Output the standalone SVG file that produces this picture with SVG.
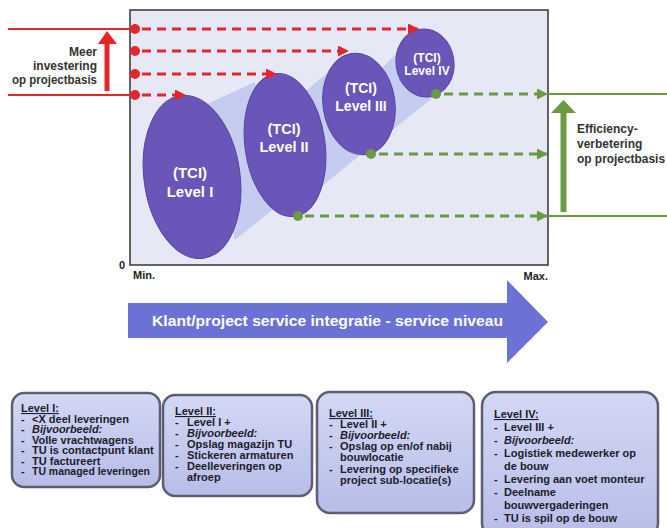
<svg xmlns="http://www.w3.org/2000/svg" width="667" height="528" viewBox="0 0 667 528">
<defs>
<style>
.t{font-family:"Liberation Sans",Arial,sans-serif;font-weight:bold}
.lbl{fill:#fff;text-anchor:middle}
.side{fill:#333;font-size:12px}
.bx{fill:#1c1c2c;font-size:11px}
.it{font-style:italic}
.ell{fill:#6a55b8;stroke:#5742a6;stroke-width:1}
.cone{fill:#bfc6ef;opacity:0.85}
.rd{stroke:#e3262a;stroke-width:3;stroke-dasharray:9 6;fill:none}
.gd{stroke:#6b9a45;stroke-width:3;stroke-dasharray:9 6;fill:none}
.box{fill:url(#bg);stroke:#5e5e72;stroke-width:2.5}
</style>
<linearGradient id="bg" x1="0" y1="0" x2="0" y2="1">
<stop offset="0" stop-color="#d4d8f5"/>
<stop offset="1" stop-color="#b7bde8"/>
</linearGradient>
<marker id="ar" markerWidth="11" markerHeight="11" refX="10" refY="5.5" orient="auto" markerUnits="userSpaceOnUse"><path d="M0,0 L11,5.5 L0,11 z" fill="#e3262a"/></marker>
<marker id="ag" markerWidth="11" markerHeight="11" refX="10" refY="5.5" orient="auto" markerUnits="userSpaceOnUse"><path d="M0,0 L11,5.5 L0,11 z" fill="#6b9a45"/></marker>
</defs>
<rect width="667" height="528" fill="#fff"/>

<g id="chart">
<rect x="130" y="10" width="418" height="255" fill="#e7e8f6" stroke="#333" stroke-width="1.5"/>
<polygon class="cone" points="205,105 255,82 272,210 235,240"/>
<polygon class="cone" points="305,92 335,66 366,150 315,192"/>
<polygon class="cone" points="380,70 405,45 440,92 390,132"/>
<text class="t" x="119" y="269" font-size="11" fill="#222">0</text>
<text class="t" x="133" y="279" font-size="11" fill="#222">Min.</text>
<text class="t" x="548" y="280" font-size="11" fill="#222" text-anchor="end">Max.</text>
</g>

<g id="level1">
<ellipse class="ell" cx="192" cy="177" rx="48" ry="82" transform="rotate(-8 192 177)"/>
<text class="t lbl" x="190" y="178" font-size="15">(TCI)</text>
<text class="t lbl" x="190" y="197" font-size="15">Level I</text>
</g>
<g id="level2">
<ellipse class="ell" cx="285" cy="145" rx="40" ry="72" transform="rotate(-8 285 145)"/>
<text class="t lbl" x="284" y="134" font-size="14.5">(TCI)</text>
<text class="t lbl" x="284" y="152" font-size="14.5">Level II</text>
</g>
<g id="level3">
<ellipse class="ell" cx="359" cy="104" rx="36" ry="51" transform="rotate(-8 359 104)"/>
<text class="t lbl" x="361" y="93" font-size="14">(TCI)</text>
<text class="t lbl" x="361" y="111" font-size="14">Level III</text>
</g>
<g id="level4">
<ellipse class="ell" cx="425" cy="63" rx="29" ry="34" transform="rotate(-8 425 63)"/>
<text class="t lbl" x="427" y="62" font-size="12">(TCI)</text>
<text class="t lbl" x="427" y="75" font-size="12">Level IV</text>
</g>

<g id="investment">
<line x1="8" y1="29" x2="130" y2="29" stroke="#e3262a" stroke-width="2"/>
<line x1="8" y1="95" x2="130" y2="95" stroke="#e3262a" stroke-width="2"/>
<rect x="104.5" y="43" width="5" height="48" fill="#e3262a"/>
<polygon points="98,44 117,44 107,31" fill="#e3262a"/>
<text class="t side" text-anchor="end"><tspan x="97" y="56">Meer</tspan><tspan x="97" y="70">investering</tspan><tspan x="97" y="84" textLength="85" lengthAdjust="spacingAndGlyphs">op projectbasis</tspan></text>
</g>

<g id="efficiency">
<line x1="548" y1="94" x2="667" y2="94" stroke="#6b9a45" stroke-width="2"/>
<line x1="548" y1="216" x2="667" y2="216" stroke="#6b9a45" stroke-width="2"/>
<rect x="560.5" y="112" width="6" height="100" fill="#6b9a45"/>
<polygon points="551,113 576,113 563.5,100" fill="#6b9a45"/>
<text class="t side"><tspan x="577" y="133">Efficiency-</tspan><tspan x="577" y="148">verbetering</tspan><tspan x="577" y="163" textLength="88" lengthAdjust="spacingAndGlyphs">op projectbasis</tspan></text>
</g>

<g id="connectors">
<line class="rd" x1="142" y1="29" x2="418" y2="29" marker-end="url(#ar)"/>
<line class="rd" x1="142" y1="51" x2="348" y2="51" marker-end="url(#ar)"/>
<line class="rd" x1="142" y1="74" x2="276" y2="74" marker-end="url(#ar)"/>
<line class="rd" x1="142" y1="95" x2="185" y2="95" marker-end="url(#ar)"/>
<circle cx="135" cy="29" r="5" fill="#e3262a"/>
<circle cx="135" cy="51" r="5" fill="#e3262a"/>
<circle cx="135" cy="74" r="5" fill="#e3262a"/>
<circle cx="135" cy="95" r="5" fill="#e3262a"/>
<line class="gd" x1="444" y1="94" x2="547" y2="94" marker-end="url(#ag)"/>
<line class="gd" x1="379" y1="154" x2="547" y2="154" marker-end="url(#ag)"/>
<line class="gd" x1="305" y1="216" x2="547" y2="216" marker-end="url(#ag)"/>
<circle cx="436" cy="94" r="5" fill="#6b9a45"/>
<circle cx="371" cy="154" r="5" fill="#6b9a45"/>
<circle cx="298" cy="216" r="5" fill="#6b9a45"/>
</g>

<g id="service-arrow">
<polygon points="128,303 507,303 507,280 548,322 507,363 507,338 128,338" fill="#6c71d6"/>
<text class="t" x="152" y="326" font-size="15" fill="#fff" textLength="351" lengthAdjust="spacingAndGlyphs">Klant/project service integratie - service niveau</text>
</g>

<g id="box1">
<rect class="box" x="12" y="393" width="148" height="94" rx="12"/>
<text class="t bx" font-size="10"><tspan x="21" y="412" text-decoration="underline">Level I:</tspan>
<tspan x="21" y="422.5">-</tspan><tspan x="32">&lt;X deel leveringen</tspan>
<tspan x="21" y="433">-</tspan><tspan x="32" class="it">Bijvoorbeeld:</tspan>
<tspan x="21" y="443.5">-</tspan><tspan x="32">Volle vrachtwagens</tspan>
<tspan x="21" y="454">-</tspan><tspan x="32">TU is contactpunt klant</tspan>
<tspan x="21" y="464.5">-</tspan><tspan x="32">TU factureert</tspan>
<tspan x="21" y="475">-</tspan><tspan x="32" textLength="118" lengthAdjust="spacingAndGlyphs">TU managed leveringen</tspan></text>
</g>

<g id="box2">
<rect class="box" x="163" y="395" width="149" height="101" rx="12"/>
<text class="t bx"><tspan x="175" y="415" text-decoration="underline">Level II:</tspan>
<tspan x="175" y="426">-</tspan><tspan x="187">Level I +</tspan>
<tspan x="175" y="437">-</tspan><tspan x="187" class="it">Bijvoorbeeld:</tspan>
<tspan x="175" y="448">-</tspan><tspan x="187">Opslag magazijn TU</tspan>
<tspan x="175" y="459">-</tspan><tspan x="187">Stickeren armaturen</tspan>
<tspan x="175" y="470">-</tspan><tspan x="187">Deelleveringen op</tspan>
<tspan x="187" y="481">afroep</tspan></text>
</g>

<g id="box3">
<rect class="box" x="317" y="392" width="157" height="121" rx="13"/>
<text class="t bx"><tspan x="329" y="417" text-decoration="underline">Level III:</tspan>
<tspan x="329" y="428">-</tspan><tspan x="340">Level II +</tspan>
<tspan x="329" y="439">-</tspan><tspan x="340" class="it">Bijvoorbeeld:</tspan>
<tspan x="329" y="450">-</tspan><tspan x="340">Opslag op en/of nabij</tspan>
<tspan x="340" y="461">bouwlocatie</tspan>
<tspan x="329" y="472.5">-</tspan><tspan x="340">Levering op specifieke</tspan>
<tspan x="340" y="484">project sub-locatie(s)</tspan></text>
</g>

<g id="box4">
<rect class="box" x="482" y="392" width="176" height="145" rx="14"/>
<text class="t bx" font-size="11.5"><tspan x="494" y="418" text-decoration="underline">Level IV:</tspan>
<tspan x="494" y="431">-</tspan><tspan x="504">Level III +</tspan>
<tspan x="494" y="444">-</tspan><tspan x="504" class="it">Bijvoorbeeld:</tspan>
<tspan x="494" y="457">-</tspan><tspan x="504">Logistiek medewerker op</tspan>
<tspan x="504" y="470">de bouw</tspan>
<tspan x="494" y="483">-</tspan><tspan x="504">Levering aan voet monteur</tspan>
<tspan x="494" y="496">-</tspan><tspan x="504">Deelname</tspan>
<tspan x="504" y="509">bouwvergaderingen</tspan>
<tspan x="494" y="522">-</tspan><tspan x="504">TU is spil op de bouw</tspan></text>
</g>
</svg>
